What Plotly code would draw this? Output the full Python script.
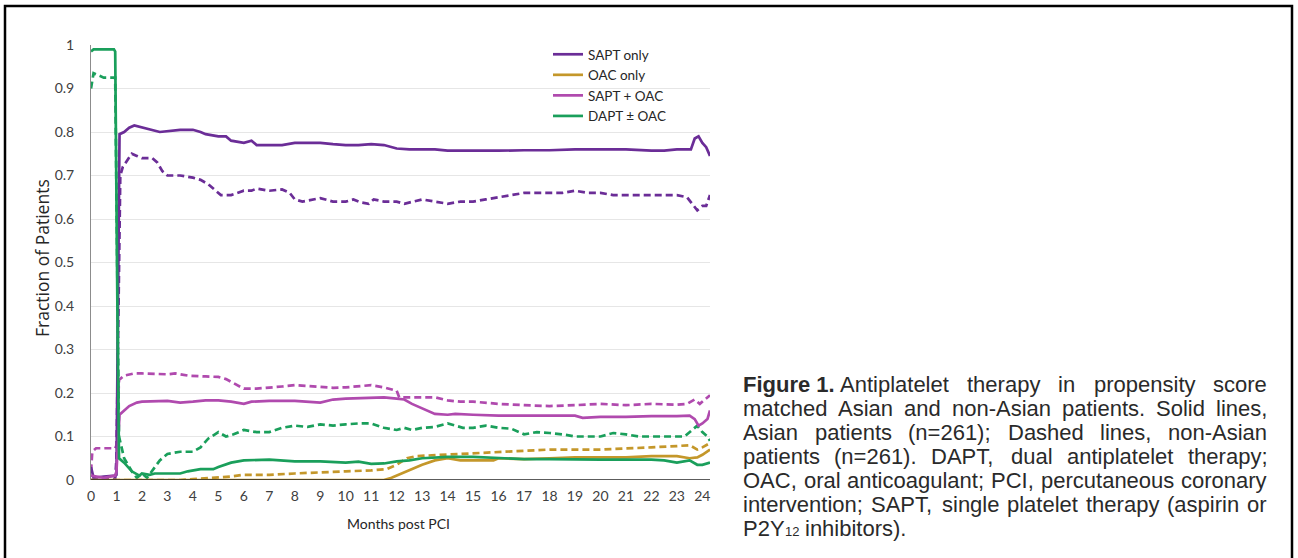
import plotly.graph_objects as go

# ---------------- data ----------------
sapt_asian_x = [0, 0.1, 0.5, 0.95, 1.0, 1.12, 1.3, 1.5, 1.7, 2.0, 2.3, 2.7, 3.5, 4.0, 4.3, 4.5, 5.0, 5.3, 5.5, 6.0, 6.3, 6.5,
                7.0, 7.5, 8.0, 8.5, 9.0, 9.5, 10.0, 10.5, 11.0, 11.5, 12.0, 12.5, 13.0, 13.5, 14.0, 14.5, 15.0, 16, 17,
                18, 19, 20, 21, 22, 22.5, 23.0, 23.4, 23.55, 23.7, 23.85, 24.0, 24.15, 24.3]
sapt_asian_y = [0.03, 0.005, 0.008, 0.01, 0.012, 0.795, 0.80, 0.81, 0.815, 0.81, 0.805, 0.80, 0.805, 0.805, 0.80, 0.795, 0.79,
                0.79, 0.78, 0.775, 0.78, 0.77, 0.77, 0.77, 0.775, 0.775, 0.775, 0.772, 0.77, 0.77, 0.772, 0.77, 0.762,
                0.76, 0.76, 0.76, 0.757, 0.757, 0.756, 0.757, 0.758, 0.758, 0.76, 0.76, 0.76, 0.757, 0.757, 0.76, 0.76,
                0.76, 0.785, 0.79, 0.775, 0.765, 0.745]

sapt_non_x = [0, 0.5, 0.95, 1.0, 1.15, 1.25, 1.5, 1.6, 1.8, 2.0, 2.4, 2.6, 2.8, 3.0, 3.5, 4.0, 4.3, 4.6, 4.9, 5.1, 5.5, 5.8,
              6.0, 6.3, 6.5, 7.0, 7.5, 7.8, 8.0, 8.3, 8.7, 9.0, 9.5, 10.0, 10.3, 10.6, 10.9, 11.1, 11.5, 12, 12.3, 12.6,
              13, 13.5, 14, 14.5, 15, 15.5, 16, 16.5, 17, 18, 18.5, 19, 19.5, 20, 20.5, 21, 22, 23.0, 23.4, 23.6, 23.8,
              24.0, 24.15, 24.3]
sapt_non_y = [0.0, 0.002, 0.003, 0.05, 0.70, 0.72, 0.74, 0.75, 0.745, 0.74, 0.74, 0.73, 0.71, 0.70, 0.70, 0.695, 0.69,
              0.68, 0.665, 0.655, 0.655, 0.66, 0.665, 0.665, 0.67, 0.665, 0.668, 0.66, 0.645, 0.64, 0.645, 0.648, 0.64,
              0.64, 0.645, 0.638, 0.635, 0.645, 0.64, 0.64, 0.635, 0.64, 0.645, 0.64, 0.635, 0.64, 0.64, 0.645, 0.65,
              0.655, 0.66, 0.66, 0.66, 0.665, 0.66, 0.66, 0.655, 0.655, 0.655, 0.655, 0.65, 0.635, 0.62, 0.63, 0.63,
              0.655]

oac_asian_x = [0, 11.5, 11.8, 12.2, 12.6, 13.0, 13.5, 14, 14.5, 15, 15.8, 16, 17, 18, 19, 20, 21, 22, 23, 23.5, 23.8,
               24.0, 24.3]
oac_asian_y = [0.0, 0.0, 0.005, 0.015, 0.025, 0.035, 0.045, 0.05, 0.045, 0.045, 0.045, 0.05, 0.048, 0.05, 0.052, 0.052,
               0.052, 0.055, 0.055, 0.05, 0.052, 0.058, 0.07]

oac_non_x = [0, 3.5, 4, 5, 5.5, 6, 7, 8, 9, 10, 11, 11.6, 12, 12.4, 12.8, 13.5, 14, 15, 16, 17, 18, 20, 21, 22, 23, 23.5,
             23.8, 24.0, 24.3]
oac_non_y = [0.0, 0.0, 0.002, 0.005, 0.008, 0.012, 0.012, 0.015, 0.018, 0.02, 0.022, 0.025, 0.035, 0.05, 0.055, 0.057,
             0.06, 0.062, 0.065, 0.068, 0.07, 0.07, 0.072, 0.075, 0.078, 0.08, 0.07, 0.075, 0.085]

combo_asian_x = [0, 0.5, 0.95, 1.0, 1.12, 1.3, 1.5, 1.8, 2.0, 3, 3.5, 4, 4.5, 5, 5.5, 6.0, 6.3, 7, 8, 9, 9.5, 10, 11, 11.5,
                 12, 12.3, 12.6, 13, 13.5, 14, 14.3, 15, 16, 17, 18.5, 19, 19.3, 20, 21, 22, 23, 23.5, 23.7, 23.85,
                 24.0, 24.2, 24.3]
combo_asian_y = [0.01, 0.005, 0.01, 0.02, 0.15, 0.16, 0.17, 0.178, 0.18, 0.182, 0.178, 0.18, 0.183, 0.183, 0.18, 0.175,
                 0.18, 0.182, 0.182, 0.178, 0.185, 0.187, 0.19, 0.19, 0.187, 0.185, 0.175, 0.165, 0.152, 0.15, 0.152,
                 0.15, 0.148, 0.148, 0.148, 0.148, 0.143, 0.145, 0.145, 0.147, 0.147, 0.148, 0.14, 0.125, 0.13, 0.14,
                 0.16]

combo_non_x = [0, 0.05, 0.2, 0.95, 1.0, 1.1, 1.3, 1.7, 2, 3, 3.3, 3.8, 4.5, 5, 5.3, 5.6, 6.0, 6.5, 7, 7.5, 8, 9, 9.5, 10,
               10.5, 11, 11.5, 12.0, 12.1, 13, 13.5, 14, 14.5, 15, 16, 17, 18, 19, 20, 21, 22, 23, 23.4, 23.7, 23.9,
               24.1, 24.3]
combo_non_y = [0.02, 0.065, 0.073, 0.073, 0.08, 0.23, 0.24, 0.245, 0.245, 0.243, 0.245, 0.24, 0.238, 0.237, 0.232, 0.222,
               0.21, 0.21, 0.212, 0.215, 0.218, 0.215, 0.212, 0.213, 0.215, 0.218, 0.213, 0.205, 0.19, 0.19, 0.19,
               0.183, 0.18, 0.18, 0.175, 0.172, 0.17, 0.172, 0.175, 0.172, 0.175, 0.173, 0.175, 0.185, 0.175, 0.185,
               0.195]

dapt_asian_x = [0, 0.1, 0.9, 0.95, 1.05, 1.1, 1.3, 1.6, 1.9, 2.0, 2.3, 2.5, 3.5, 3.8, 4.3, 4.8, 5.0, 5.5, 6, 7, 8, 9, 10,
                10.5, 11, 11.5, 12, 12.5, 13, 13.5, 14, 15, 16, 17, 18, 19, 20, 21, 22, 22.5, 23, 23.5, 23.8, 24, 24.3]
dapt_asian_y = [0.985, 0.99, 0.99, 0.985, 0.3, 0.05, 0.04, 0.02, 0.01, 0.015, 0.012, 0.015, 0.015, 0.02, 0.025, 0.025,
                0.03, 0.04, 0.045, 0.047, 0.043, 0.043, 0.04, 0.042, 0.037, 0.038, 0.043, 0.045, 0.05, 0.052, 0.053,
                0.053, 0.05, 0.048, 0.048, 0.047, 0.047, 0.047, 0.047, 0.045, 0.04, 0.045, 0.035, 0.035, 0.04]

dapt_non_x = [0, 0.1, 0.3, 0.5, 0.95, 1.05, 1.1, 1.3, 1.6, 1.8, 2.0, 2.2, 2.4, 2.7, 3.0, 3.5, 4.0, 4.3, 4.6, 5.0, 5.3,
              5.6, 6.0, 6.5, 7.0, 7.5, 8.0, 8.5, 9.0, 9.5, 10.0, 10.5, 11.0, 11.5, 12.0, 12.3, 12.6, 13, 13.5, 14.0,
              14.3, 14.6, 15.0, 15.5, 16.0, 16.5, 17.0, 17.5, 18.0, 18.5, 19.0, 20.0, 20.5, 21.0, 21.5, 22.0, 22.5,
              23.0, 23.3, 23.6, 23.8, 24.0, 24.2, 24.3]
dapt_non_y = [0.90, 0.935, 0.93, 0.925, 0.925, 0.3, 0.1, 0.05, 0.02, 0.005, 0.015, 0.005, 0.02, 0.045, 0.06, 0.065,
              0.065, 0.075, 0.095, 0.11, 0.1, 0.105, 0.115, 0.11, 0.11, 0.12, 0.125, 0.122, 0.128, 0.125, 0.128, 0.13,
              0.13, 0.12, 0.115, 0.12, 0.115, 0.12, 0.122, 0.13, 0.125, 0.12, 0.12, 0.125, 0.12, 0.118, 0.105, 0.11,
              0.108, 0.105, 0.1, 0.1, 0.108, 0.105, 0.1, 0.1, 0.1, 0.1, 0.1, 0.115, 0.125, 0.11, 0.1, 0.09]

series_names = ["SAPT only", "OAC only", "SAPT + OAC", "DAPT \u00b1 OAC"]
y_ticks = [0, 0.1, 0.2, 0.3, 0.4, 0.5, 0.6, 0.7, 0.8, 0.9, 1]
y_tick_labels = ["0", "0.1", "0.2", "0.3", "0.4", "0.5", "0.6", "0.7", "0.8", "0.9", "1"]
x_ticks = list(range(0, 25))

caption_bold = "Figure 1."
caption_lines = [
    "Antiplatelet therapy in propensity score",
    "matched Asian and non-Asian patients. Solid lines,",
    "Asian patients (n=261); Dashed lines, non-Asian",
    "patients (n=261). DAPT, dual antiplatelet therapy;",
    "OAC, oral anticoagulant; PCI, percutaneous coronary",
    "intervention; SAPT, single platelet therapy (aspirin or",
]
caption_last_parts = ["P2Y", "12", "inhibitors)."]

# ---------------- style ----------------
PURPLE = "#6b2d97"
GOLD = "#c4972a"
MAGENTA = "#b04aae"
GREEN = "#1a9f5b"
DASH = "7px,4px"
LW = 2.7
CHART_FONT = "Lato, 'Open Sans', sans-serif"
CAP_FONT = "'Liberation Sans', Arial, sans-serif"

W, H = 1298, 558
L, R, T, B = 91, 710, 45, 480  # plot area in pixels
PW, PH = R - L, B - T


def px(xp):
    return (xp - L) / PW


def py(yp):
    return (B - yp) / PH


fig = go.Figure()

specs = [
    (sapt_asian_x, sapt_asian_y, PURPLE, "solid", series_names[0], True),
    (oac_asian_x, oac_asian_y, GOLD, "solid", series_names[1], True),
    (combo_asian_x, combo_asian_y, MAGENTA, "solid", series_names[2], True),
    (dapt_asian_x, dapt_asian_y, GREEN, "solid", series_names[3], True),
    (sapt_non_x, sapt_non_y, PURPLE, DASH, series_names[0] + " (non-Asian)", False),
    (oac_non_x, oac_non_y, GOLD, DASH, series_names[1] + " (non-Asian)", False),
    (combo_non_x, combo_non_y, MAGENTA, DASH, series_names[2] + " (non-Asian)", False),
    (dapt_non_x, dapt_non_y, GREEN, DASH, series_names[3] + " (non-Asian)", False),
]
# draw dashed first so solid lines sit on top, legend keeps solid order
for xs, ys, col, dash, name, show in specs[4:] + specs[:4]:
    fig.add_trace(go.Scatter(x=xs, y=ys, mode="lines", name=name, showlegend=show,
                             line=dict(color=col, width=LW, dash=dash)))

fig.update_layout(
    width=W, height=H,
    margin=dict(l=L, r=W - R, t=T, b=H - B),
    paper_bgcolor="white", plot_bgcolor="white",
    font=dict(family=CHART_FONT, size=14, color="#404040"),
    showlegend=True,
    legend=dict(x=px(548), y=py(39), xanchor="left", yanchor="top", traceorder="normal",
                bgcolor="rgba(0,0,0,0)", font=dict(family=CHART_FONT, size=13.5, color="#262626"),
                itemwidth=30, tracegroupgap=0),
    xaxis=dict(range=[0, 24.3], tickmode="array", tickvals=x_ticks, ticktext=[str(v) for v in x_ticks],
               showgrid=False, zeroline=False, showline=False, ticks="", ticklabelstandoff=6,
               tickfont=dict(size=14, color="#404040")),
    yaxis=dict(range=[0, 1], tickmode="array", tickvals=y_ticks, ticktext=y_tick_labels,
               showgrid=True, gridcolor="#e6e6e6", gridwidth=1, zeroline=False,
               showline=True, linecolor="#8c8c8c", linewidth=1, ticks="", ticklabelstandoff=13,
               tickfont=dict(size=14, color="#404040")),
)

# x-axis baseline (dark)
fig.add_shape(type="line", xref="paper", yref="y", x0=0, x1=1, y0=0, y1=0,
              line=dict(color="#262626", width=1.6), layer="above")

# outer frame
fig.add_shape(type="rect", xref="paper", yref="paper", x0=px(5), x1=px(1292), y0=py(6), y1=py(575),
              line=dict(color="black", width=2.5), fillcolor="rgba(0,0,0,0)")

# axis titles
fig.add_annotation(text="Fraction of Patients", xref="paper", yref="paper", x=px(42), y=py(258),
                   textangle=-90, showarrow=False, xanchor="center", yanchor="middle",
                   font=dict(family="'Open Sans', sans-serif", size=17.5, color="#262626"))
fig.add_annotation(text="Months post PCI", xref="paper", yref="paper", x=px(398), y=py(523),
                   showarrow=False, xanchor="center", yanchor="middle",
                   font=dict(family=CHART_FONT, size=14, color="#262626"))

# ---------------- caption (justified using Helvetica/Arial metrics) ----------------
HW = {' ': 278, '(': 333, ')': 333, ',': 278, '-': 333, '.': 278, ';': 278, '=': 584, ':': 278}
for d in "0123456789":
    HW[d] = 556
HW.update({'A': 667, 'B': 667, 'C': 722, 'D': 722, 'E': 667, 'F': 611, 'G': 778, 'H': 722, 'I': 278, 'J': 500,
           'K': 667, 'L': 556, 'M': 833, 'N': 722, 'O': 778, 'P': 667, 'Q': 778, 'R': 722, 'S': 667, 'T': 611,
           'U': 722, 'V': 667, 'W': 944, 'X': 667, 'Y': 667, 'Z': 611,
           'a': 556, 'b': 556, 'c': 500, 'd': 556, 'e': 556, 'f': 278, 'g': 556, 'h': 556, 'i': 222, 'j': 222,
           'k': 500, 'l': 222, 'm': 833, 'n': 556, 'o': 556, 'p': 556, 'q': 556, 'r': 333, 's': 500, 't': 278,
           'u': 556, 'v': 500, 'w': 722, 'x': 500, 'y': 500, 'z': 500})

CAP_SIZE = 22
SUB_SIZE = 13
CAP_LEFT, CAP_RIGHT = 741, 1265
CAP_TOP, CAP_STEP = 384, 24.0
CAP_COLOR = "#2a2a2a"


def word_w(w, size=CAP_SIZE):
    return sum(HW.get(c, 556) for c in w) / 1000.0 * size


def add_word(text, xleft, yc, bold=False, size=CAP_SIZE):
    fig.add_annotation(text=text, xref="paper", yref="paper", x=px(xleft), y=py(yc), showarrow=False,
                       xanchor="left", yanchor="middle",
                       font=dict(family=CAP_FONT, size=size, color=CAP_COLOR,
                                 weight="bold" if bold else "normal"))


def justify(line, x0, x1, yc):
    words = line.split(" ")
    widths = [word_w(w) for w in words]
    gap = (x1 - x0 - sum(widths)) / (len(words) - 1)
    x = x0
    for w, ww in zip(words, widths):
        add_word(w, x, yc)
        x += ww + gap


add_word("<b>" + caption_bold + "</b>", CAP_LEFT, CAP_TOP, bold=True)
for i, line in enumerate(caption_lines):
    start = CAP_LEFT + 97 if i == 0 else CAP_LEFT
    justify(line, start, CAP_RIGHT, CAP_TOP + i * CAP_STEP)

# last line: P2Y with subscript 12, then "inhibitors)."
y_last = CAP_TOP + len(caption_lines) * CAP_STEP
x_cur = CAP_LEFT
add_word(caption_last_parts[0], x_cur, y_last)
x_cur += word_w(caption_last_parts[0])
add_word(caption_last_parts[1], x_cur, y_last + 3.5, size=SUB_SIZE)
x_cur += word_w(caption_last_parts[1], SUB_SIZE) + word_w(" ")
add_word(caption_last_parts[2], x_cur, y_last)

fig.write_html("out.html", config={"displayModeBar": False},
               post_script="document.body.style.margin='0';document.body.style.overflow='hidden';")
